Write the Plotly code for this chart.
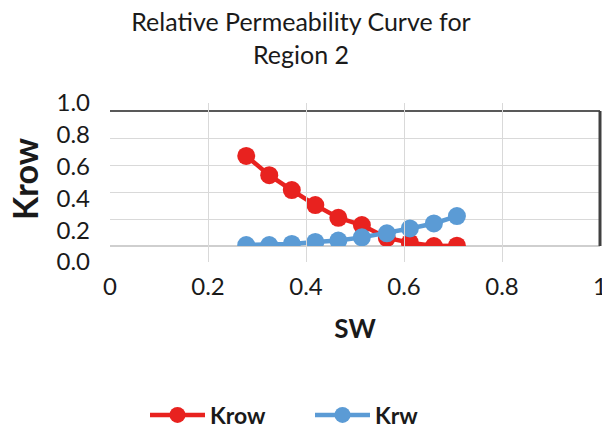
import plotly.graph_objects as go

# Data
sw = [0.278, 0.325, 0.371, 0.419, 0.466, 0.514, 0.565, 0.612, 0.661, 0.708]
krow = [0.667, 0.525, 0.414, 0.303, 0.209, 0.155, 0.060, 0.025, 0.000, 0.002]
krw = [0.007, 0.007, 0.015, 0.030, 0.040, 0.064, 0.094, 0.130, 0.167, 0.222]

x_ticks = [0, 0.2, 0.4, 0.6, 0.8, 1]
x_tick_text = ["0", "0.2", "0.4", "0.6", "0.8", "1"]
y_ticks = [0, 0.2, 0.4, 0.6, 0.8, 1.0]
y_tick_text = ["0.0", "0.2", "0.4", "0.6", "0.8", "1.0"]

RED = "#E8221F"
BLUE = "#5B9BD5"
FONT = "Lato"
TXT = "#1a1a1a"

W, H = 602, 427
PL, PR = 110, 600          # plot area x extents (px)
PT, PB = 111, 246          # grid area y extents (px)
LT, LB = 103, 262          # y tick-label span (px)

plot_h = LB - LT
ydom = [(LB - PB) / plot_h, (LB - PT) / plot_h]

fig = go.Figure()
# carrier for the tick-label axis (drawn first, below)
fig.add_trace(go.Scatter(x=[], y=[], yaxis="y2", showlegend=False, hoverinfo="skip"))
fig.add_trace(go.Scatter(
    x=sw, y=krow, name="Krow", mode="lines+markers",
    line=dict(color=RED, width=4.5),
    marker=dict(color=RED, size=18),
))
fig.add_trace(go.Scatter(
    x=sw, y=krw, name="Krw", mode="lines+markers",
    line=dict(color=BLUE, width=4.5),
    marker=dict(color=BLUE, size=18),
))

fig.update_layout(
    width=W, height=H,
    margin=dict(l=PL, r=W - PR, t=LT, b=H - LB, pad=0, autoexpand=False),
    paper_bgcolor="white", plot_bgcolor="rgba(0,0,0,0)",
    font=dict(family=FONT, color=TXT),
    title=dict(
        text="Relative Permeability Curve for<br>Region 2",
        font=dict(family=FONT, size=25, color=TXT),
        x=0.5, xref="container", xanchor="center",
        y=1 - 31 / H, yref="container", yanchor="middle",
    ),
    xaxis=dict(
        range=[0, 1], tickvals=x_ticks, ticktext=x_tick_text,
        showgrid=True, gridcolor="#D9D9D9", gridwidth=1,
        zeroline=False, showline=False, ticks="",
        ticklabelstandoff=24, ticklabeloverflow="allow",
        tickfont=dict(family=FONT, size=24, color=TXT),
        title=dict(text="SW", font=dict(family=FONT, size=26, color=TXT, weight="bold"), standoff=20),
        anchor="y",
    ),
    yaxis=dict(
        domain=ydom, range=[0, 1], tickvals=y_ticks,
        showgrid=True, gridcolor="#D9D9D9", gridwidth=1,
        zeroline=False, showline=False, ticks="", showticklabels=False,
    ),
    yaxis2=dict(
        domain=[0, 1], range=[0, 1], anchor="free", position=0,
        tickvals=y_ticks, ticktext=y_tick_text,
        showgrid=False, zeroline=False, showline=False, ticks="",
        ticklabelstandoff=20, ticklabeloverflow="allow",
        tickfont=dict(family=FONT, size=24, color=TXT),
    ),
    legend=dict(
        orientation="h", x=(145 - PL) / (PR - PL), xanchor="left",
        yref="container", y=1 - 415 / H, yanchor="middle",
        font=dict(family=FONT, size=23, color=TXT, weight="bold"),
        itemwidth=55, entrywidth=95, bgcolor="rgba(0,0,0,0)",
    ),
    annotations=[dict(
        text="Krow", textangle=-90, showarrow=False,
        xref="paper", yref="paper",
        x=(24 - PL) / (PR - PL), y=(LB - 179) / plot_h,
        xanchor="center", yanchor="middle",
        font=dict(family=FONT, size=34, color=TXT, weight="bold"),
    )],
    shapes=[
        dict(type="line", xref="x domain", yref="y domain", x0=0, x1=1, y0=0, y1=0,
             line=dict(color="#BFBFBF", width=1.5), layer="below"),
        dict(type="line", xref="x domain", yref="y domain", x0=0, x1=1, y0=1, y1=1,
             line=dict(color="#595959", width=2), layer="below"),
        dict(type="line", xref="x domain", yref="y domain", x0=1, x1=1, y0=0, y1=1,
             line=dict(color="#404040", width=3)),
    ],
)

fig.write_html("out.html")
